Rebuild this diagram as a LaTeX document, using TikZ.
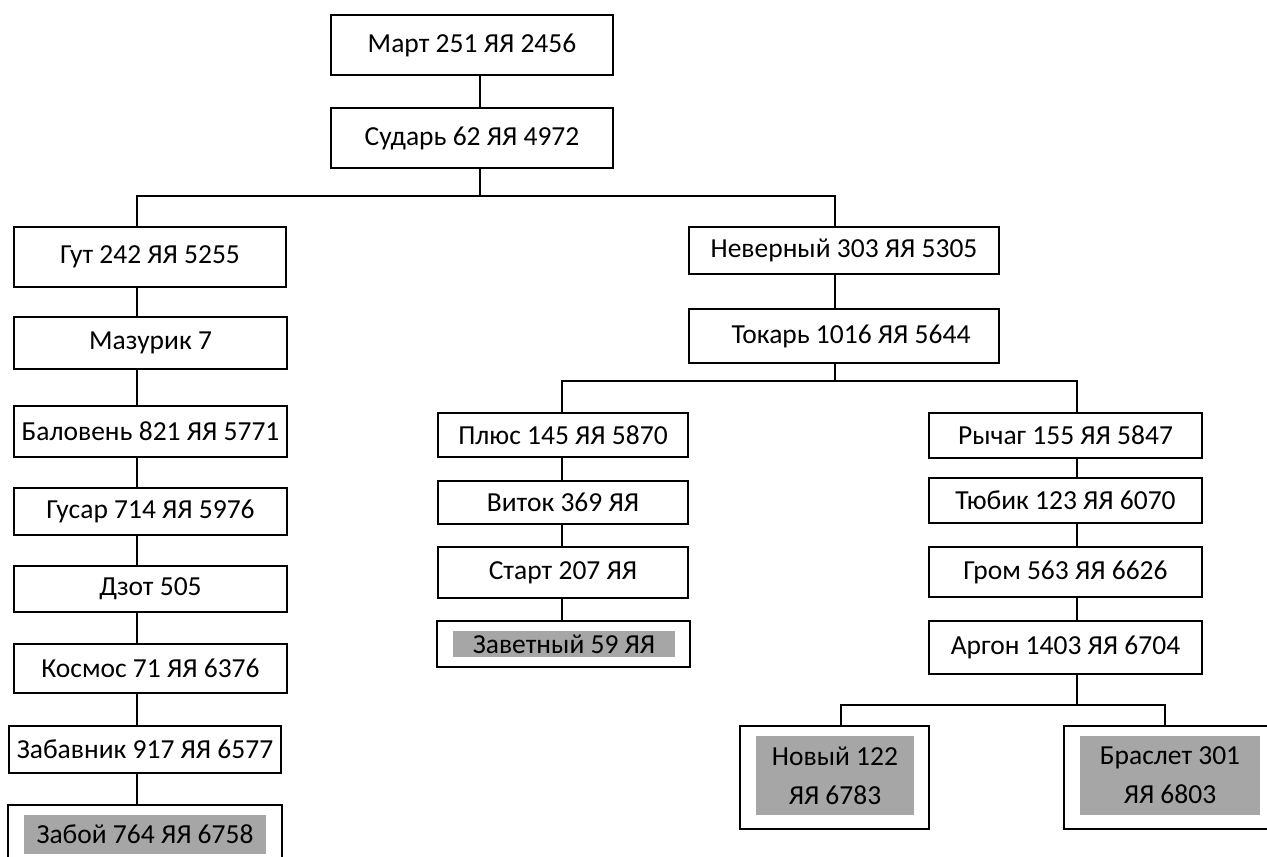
\documentclass[tikz,border=0pt]{standalone}
\usepackage{fontspec}
\setmainfont{Carlito}
\definecolor{leafgray}{RGB}{166,166,166}

\begin{document}
\begin{tikzpicture}[
    x=1pt, y=-1pt,
    box/.style={draw, line width=1.6pt, inner sep=0pt, font=\fontsize{27.5}{39}\selectfont},
    shade/.style={fill=leafgray, inner sep=0pt, align=center, font=\fontsize{27.5}{39}\selectfont},
    link/.style={line width=1.6pt},
]
    \clip (0,0) rectangle (1267,857);

    % top of the tree
    \node[box,minimum width=282,minimum height=60] (mart) at (472,45) {Март 251 ЯЯ 2456};
    \node[box,minimum width=282,minimum height=60] (sudar) at (472,138) {Сударь 62 ЯЯ 4972};

    % left branch
    \node[box,minimum width=272,minimum height=60] (gut) at (150,257) {Гут 242 ЯЯ 5255};
    \node[box,minimum width=273,minimum height=52] (mazurik) at (150.5,343) {Мазурик 7};
    \node[box,minimum width=273,minimum height=51] (baloven) at (150.5,431.5) {Баловень 821 ЯЯ 5771};
    \node[box,minimum width=273,minimum height=47] (gusar) at (150.5,511.5) {Гусар 714 ЯЯ 5976};
    \node[box,minimum width=273,minimum height=46] (dzot) at (150.5,589) {Дзот 505};
    \node[box,minimum width=273,minimum height=49] (kosmos) at (150.5,668.5) {Космос 71 ЯЯ 6376};
    \node[box,minimum width=272,minimum height=47] (zabavnik) at (145,749.5) {Забавник 917 ЯЯ 6577};
    \node[box,minimum width=274,minimum height=65] (zaboj) at (145,837.5) {};
    \node[shade,minimum width=242,minimum height=39] (zaboj-t) at (145,834.5) {Забой 764 ЯЯ 6758};

    % right branch
    \node[box,minimum width=310,minimum height=47] (neverny) at (844,250.5) {Неверный 303 ЯЯ 5305};
    \node[box,minimum width=310,minimum height=54] (tokar) at (844,336) {\hspace*{14pt}Токарь 1016 ЯЯ 5644};

    \node[box,minimum width=250,minimum height=44] (plus) at (563,435) {Плюс 145 ЯЯ 5870};
    \node[box,minimum width=250,minimum height=43] (vitok) at (563,502.5) {Виток 369 ЯЯ};
    \node[box,minimum width=250,minimum height=51] (start) at (563,572.5) {Старт 207 ЯЯ};
    \node[box,minimum width=253,minimum height=46] (zavetny) at (563.5,644) {};
    \node[shade,minimum width=222,minimum height=26] (zavetny-t) at (564,644) {Заветный 59 ЯЯ};

    \node[box,minimum width=273,minimum height=45] (rychag) at (1065.5,435.5) {Рычаг 155 ЯЯ 5847};
    \node[box,minimum width=273,minimum height=45] (tubik) at (1065.5,500.5) {Тюбик 123 ЯЯ 6070};
    \node[box,minimum width=273,minimum height=50] (grom) at (1065.5,572) {Гром 563 ЯЯ 6626};
    \node[box,minimum width=273,minimum height=53] (argon) at (1065.5,647.5) {Аргон 1403 ЯЯ 6704};

    \node[box,minimum width=189,minimum height=103] (novy) at (834.5,777.5) {};
    \node[shade,minimum width=158,minimum height=79] (novy-t) at (835,775.5) {Новый 122\\ЯЯ 6783};
    \node[box,minimum width=212,minimum height=103] (braslet) at (1170,777.5) {};
    \node[shade,minimum width=180,minimum height=79] (braslet-t) at (1170,775.5) {Браслет 301\\ЯЯ 6803};

    % bus lines
    \coordinate (busA) at (480,196);
    \coordinate (colL) at (137,196);
    \coordinate (colR) at (835,196);
    \coordinate (busB) at (835,381);
    \coordinate (colM) at (562,381);
    \coordinate (colN) at (1077,381);
    \coordinate (busC) at (1077,705);
    \coordinate (colP) at (841,705);
    \coordinate (colQ) at (1165,705);

    \draw[link] (mart.south -| busA) -- (sudar.north -| busA);
    \draw[link] (sudar.south -| busA) -- (busA);
    \draw[link] (gut.north -| colL) -- (colL) -- (colR) -- (neverny.north -| colR);
    \draw[link] (neverny.south -| colR) -- (tokar.north -| colR);
    \draw[link] (tokar.south -| busB) -- (busB);
    \draw[link] (plus.north -| colM) -- (colM) -- (colN) -- (rychag.north -| colN);
    \draw[link] (argon.south -| busC) -- (busC);
    \draw[link] (novy.north -| colP) -- (colP) -- (colQ) -- (braslet.north -| colQ);

    \foreach \a/\b in {gut/mazurik,mazurik/baloven,baloven/gusar,gusar/dzot,dzot/kosmos,kosmos/zabavnik,zabavnik/zaboj}
        \draw[link] (\a.south -| colL) -- (\b.north -| colL);
    \foreach \a/\b in {plus/vitok,vitok/start,start/zavetny}
        \draw[link] (\a.south -| colM) -- (\b.north -| colM);
    \foreach \a/\b in {rychag/tubik,tubik/grom,grom/argon}
        \draw[link] (\a.south -| colN) -- (\b.north -| colN);
\end{tikzpicture}
\end{document}
